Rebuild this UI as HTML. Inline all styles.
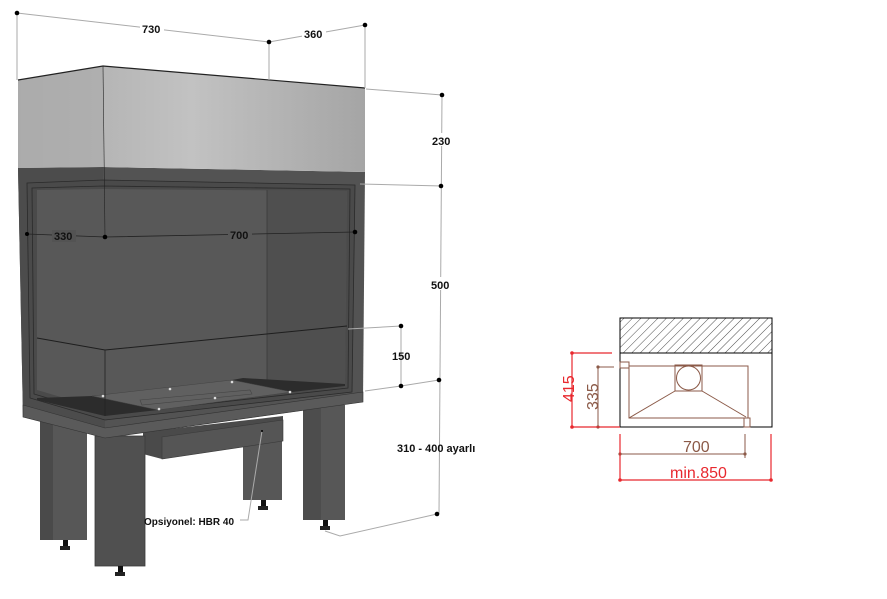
<!DOCTYPE html>
<html><head><meta charset="utf-8"><style>
html,body{margin:0;padding:0;background:#fff;}
svg{display:block;font-family:"Liberation Sans",Arial,sans-serif;}
.dim{fill:#111;font-weight:bold;font-size:11px;}
.dl{stroke:#aaa;stroke-width:1;fill:none;}
</style></head><body>
<svg width="887" height="599" viewBox="0 0 887 599" xmlns="http://www.w3.org/2000/svg">
<defs>
<linearGradient id="hood" x1="0" y1="0" x2="1" y2="0">
<stop offset="0" stop-color="#a9a9a9"/><stop offset="0.5" stop-color="#c2c2c2"/><stop offset="1" stop-color="#a5a5a5"/>
</linearGradient>
<pattern id="hatch" width="6" height="6" patternUnits="userSpaceOnUse" patternTransform="rotate(45)">
<line x1="0" y1="0" x2="0" y2="6" stroke="#222" stroke-width="0.8"/>
</pattern>
</defs>

<!-- legs back -->
<rect x="40" y="415" width="47" height="125" fill="#4a4a4a"/>
<rect x="53" y="415" width="34" height="125" fill="#575757"/>
<rect x="63" y="540" width="5" height="8" fill="#111"/><rect x="60" y="546" width="10" height="4" fill="#222"/>
<rect x="243" y="430" width="39" height="70" fill="#575757"/>
<rect x="261" y="500" width="5" height="8" fill="#111"/><rect x="258" y="506" width="10" height="4" fill="#222"/>
<rect x="303" y="405" width="42" height="115" fill="#575757"/>
<rect x="303" y="405" width="18" height="115" fill="#4d4d4d"/>
<rect x="323" y="520" width="5" height="8" fill="#111"/><rect x="320" y="526" width="10" height="4" fill="#222"/>
<!-- box -->
<polygon points="143,432 283,416 283,441 162,459 143,454" fill="#4a4a4a"/>
<polygon points="162,437 283,420 283,441 162,459" fill="#555" stroke="#3a3a3a" stroke-width="0.6"/>
<!-- front left leg -->
<rect x="95" y="436" width="50" height="130" fill="#505050"/>
<rect x="95" y="436" width="50" height="130" fill="none" stroke="#3a3a3a" stroke-width="0.8"/>
<rect x="118" y="566" width="5" height="8" fill="#111"/><rect x="115" y="572" width="10" height="4" fill="#222"/>

<!-- body -->
<polygon points="18,168 103,167 365,172 363,402 105,438 23,417" fill="#535353"/>
<polygon points="18,168 103,167 105,438 23,417" fill="#4c4c4c"/>
<polygon points="23,405 105,428 363,392 363,402 105,438 23,417" fill="#5a5a5a" stroke="#333" stroke-width="0.6"/>
<!-- window frame -->
<polygon points="27,183 103,180 355,185 352,392 105,420 30,398" fill="#4a4a4a" stroke="#2a2a2a" stroke-width="0.8"/>
<polygon points="32,188 103,186 350,189 348,388 105,415 34,394" fill="none" stroke="#2a2a2a" stroke-width="0.8"/>
<!-- interior -->
<polygon points="37,190 103,189 347,191 345,385 105,410 37,390" fill="#585858"/>
<polygon points="267,190 347,191 345,385 267,382" fill="#4f4f4f"/>
<line x1="267" y1="190" x2="267" y2="382" stroke="#333" stroke-width="0.6"/>
<!-- floor -->
<polygon points="37,398 92,396 158,410 105,416 37,400" fill="#2c2c2c"/>
<polygon points="232,380 243,378 345,384 345,386 292,392" fill="#2c2c2c"/>
<polygon points="92,396 232,380 292,392 158,410" fill="#606060" stroke="#444" stroke-width="0.5"/>
<polygon points="140,400 250,390 252,394 142,405" fill="none" stroke="#444" stroke-width="0.6"/>
<!-- glass lower front -->
<polyline points="37,338 105,350 347,326" fill="none" stroke="#1e1e1e" stroke-width="1"/>
<line x1="105" y1="350" x2="105" y2="416" stroke="#222" stroke-width="0.8"/>
<g fill="#ddd"><circle cx="103" cy="396" r="1.3"/><circle cx="170" cy="389" r="1.3"/><circle cx="232" cy="382" r="1.3"/><circle cx="290" cy="392" r="1.3"/><circle cx="159" cy="409" r="1.3"/><circle cx="215" cy="398" r="1.3"/></g>

<!-- hood -->
<polygon points="18,80 103,66 365,88 365,172 103,167 18,168" fill="url(#hood)"/>
<polygon points="18,80 103,66 103,167 18,168" fill="#acacac" opacity="0.7"/>
<polyline points="18,80 103,66 365,88" fill="none" stroke="#222" stroke-width="1.2"/>
<line x1="103" y1="66" x2="105" y2="237" stroke="#222" stroke-width="0.6"/>

<!-- dimension lines -->
<g class="dl">
<line x1="17" y1="13" x2="17" y2="80"/>
<line x1="17" y1="13" x2="269" y2="42"/>
<line x1="269" y1="42" x2="365" y2="25"/>
<line x1="269" y1="42" x2="269" y2="80"/>
<line x1="365" y1="25" x2="365" y2="88"/>
<line x1="366" y1="89" x2="442" y2="95"/>
<line x1="442" y1="95" x2="439" y2="514"/>
<line x1="360" y1="184" x2="442" y2="186"/>
<polyline points="365,391 401,386 439,380"/>
<line x1="348" y1="329" x2="401" y2="326"/>
<line x1="401" y1="326" x2="401" y2="386"/>
<polyline points="325,531 340,536 437,514"/>
<polyline points="240,520 248,520 262,431"/>
</g>
<g stroke="#222" stroke-width="0.8" fill="none">
<polyline points="27,234 105,237 355,232"/>
</g>
<g fill="#000">
<circle cx="17" cy="13" r="2.3"/><circle cx="269" cy="42" r="2.3"/><circle cx="365" cy="25" r="2.3"/>
<circle cx="442" cy="95" r="2.3"/><circle cx="441" cy="186" r="2.3"/><circle cx="439" cy="380" r="2.3"/><circle cx="437" cy="514" r="2.3"/>
<circle cx="401" cy="326" r="2.3"/><circle cx="401" cy="386" r="2.3"/>
<circle cx="27" cy="234" r="2"/><circle cx="105" cy="237" r="2.3"/><circle cx="355" cy="232" r="2.3"/>
<circle cx="262" cy="431" r="1"/>
</g>
<g class="dim">
<rect x="140" y="22" width="24" height="12" fill="#fff"/><text x="142" y="33">730</text>
<rect x="302" y="28" width="24" height="12" fill="#fff"/><text x="304" y="38">360</text>
<rect x="430" y="133" width="24" height="13" fill="#fff"/><text x="432" y="145">230</text>
<rect x="429" y="277" width="24" height="13" fill="#fff"/><text x="431" y="289">500</text>
<text x="392" y="360">150</text>
<text x="397" y="452">310 - 400 ayarlı</text>
<rect x="52" y="230" width="24" height="12" fill="#535353"/><text x="54" y="240">330</text>
<rect x="228" y="229" width="24" height="12" fill="#585858"/><text x="230" y="239">700</text>
<text x="144" y="525" font-size="10">Opsiyonel: HBR 40</text>
</g>

<!-- right plan diagram -->
<rect x="620" y="318" width="152" height="35" fill="url(#hatch)" stroke="#000" stroke-width="1"/>
<rect x="620" y="353" width="152" height="74" fill="none" stroke="#000" stroke-width="1"/>
<g stroke="#8b5a48" stroke-width="1" fill="none">
<rect x="629" y="366" width="119" height="52"/>
<rect x="620" y="362" width="9" height="6"/>
<rect x="675" y="365" width="27" height="26"/>
<circle cx="688.5" cy="378" r="12"/>
<line x1="675" y1="391" x2="629" y2="418"/>
<line x1="702" y1="391" x2="746" y2="417"/>
<rect x="744" y="418" width="6" height="9"/>
<line x1="598" y1="367" x2="598" y2="427"/>
<line x1="598" y1="367" x2="614" y2="367"/>
<line x1="620" y1="454" x2="745" y2="454"/>
<line x1="745" y1="434" x2="745" y2="458"/>
</g>
<g fill="#8b5a48"><circle cx="598" cy="367" r="1.6"/><circle cx="598" cy="427" r="1.6"/><circle cx="620" cy="454" r="1.6"/><circle cx="745" cy="454" r="1.6"/></g>
<text x="683" y="452" font-size="16" fill="#8b5a48">700</text>
<text transform="translate(598,410) rotate(-90)" font-size="16" fill="#8b5a48">335</text>
<g stroke="#e8282e" stroke-width="1.2" fill="none">
<line x1="572" y1="353" x2="572" y2="427"/>
<line x1="572" y1="353" x2="612" y2="353"/>
<line x1="572" y1="427" x2="620" y2="427"/>
<line x1="620" y1="434" x2="620" y2="480"/>
<line x1="771" y1="434" x2="771" y2="480"/>
<line x1="620" y1="480" x2="771" y2="480"/>
</g>
<g fill="#e8282e"><circle cx="572" cy="353" r="1.8"/><circle cx="572" cy="427" r="1.8"/><circle cx="620" cy="480" r="1.8"/><circle cx="771" cy="480" r="1.8"/></g>
<text x="670" y="478" font-size="16" fill="#e8282e">min.850</text>
<text transform="translate(574,402) rotate(-90)" font-size="16" fill="#e8282e">415</text>
</svg>
</body></html>
